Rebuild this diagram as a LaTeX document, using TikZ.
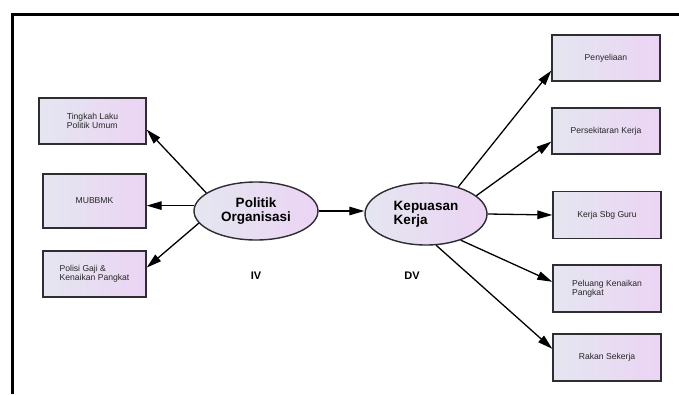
\documentclass[tikz,border=0pt]{standalone}
\usepackage{fontspec}
\setmainfont{Liberation Sans}
\usetikzlibrary{arrows.meta,shapes.geometric}
\definecolor{boxL}{RGB}{228,230,240}
\definecolor{boxR}{RGB}{236,212,244}
\definecolor{lineA}{RGB}{45,45,50}
\tikzset{
	boxA/.style={
		draw=lineA, line width=1.4pt, left color=boxL, right color=boxR,
		rectangle, inner sep=0pt, minimum width=107pt, minimum height=46pt,
		align=left, text=black!85, font={\fontsize{8.6}{9}\selectfont}
	},
	ellA/.style={
		draw=lineA, line width=1.4pt, left color=boxL, right color=boxR,
		ellipse, inner sep=0pt, align=left,
		font={\fontsize{13.5}{14}\selectfont\bfseries}
	},
	labA/.style={font={\fontsize{11}{12}\selectfont\bfseries}},
	arrA/.style={line width=1.3pt, -{Triangle[length=15pt,width=8.5pt]}},
	>=stealth,
}

\begin{document}
\begin{tikzpicture}[x=1pt, y=-1pt]
\useasboundingbox (0,0) rectangle (679,394);
\draw[line width=3pt] (12,394) -- (12,14) -- (679,14);
% independent variable
\node[ellA, minimum width=124pt, minimum height=58pt, align=center] (politik) at (256,211) {Politik\\Organisasi};
\node[boxA] (tingkah) at (92.5,121) {Tingkah Laku\\Politik Umum};
\node[boxA, minimum width=103pt, minimum height=54pt] (mubbmk) at (94.5,201) {MUBBMK};
\node[boxA, minimum width=103pt] (polisi) at (94.5,274) {Polisi Gaji \&\\Kenaikan Pangkat};
\node[labA] (iv) at (256,276) {IV};
% dependent variable
\node[ellA, minimum width=122pt, minimum height=62pt] (kepuasan) at (426,214) {Kepuasan\\Kerja};
\node[boxA, minimum width=108pt] (penyeliaan) at (606,58) {Penyeliaan};
\node[boxA, minimum width=108pt] (persekitaran) at (606,131) {Persekitaran Kerja};
\node[boxA, minimum width=108pt, minimum height=47pt] (kerja) at (607,215) {Kerja Sbg Guru};
\node[boxA, minimum width=108pt, minimum height=47pt] (peluang) at (607,288.5) {Peluang Kenaikan\\Pangkat};
\node[boxA, minimum width=108pt, minimum height=47pt] (rakan) at (607,357.5) {Rakan Sekerja};
\node[labA] (dv) at (412,276) {DV};

\draw[arrA] (politik.160) -- (tingkah.351);
\draw[arrA] (politik.175) -- (politik.175 -| mubbmk.east);
\draw[arrA] (politik.192) -- (polisi.7);
\draw[arrA] (politik.east) -- (politik.east -| kepuasan.west);
\draw[arrA] (kepuasan.40) -- (penyeliaan.193);
\draw[arrA] (kepuasan.20) -- (persekitaran.191);
\draw[arrA] (kepuasan.east) -- (kerja.west);
\draw[arrA] (kepuasan.-37) -- (peluang.173);
\draw[arrA] (kepuasan.-72) -- (rakan.171);
\end{tikzpicture}
\end{document}
